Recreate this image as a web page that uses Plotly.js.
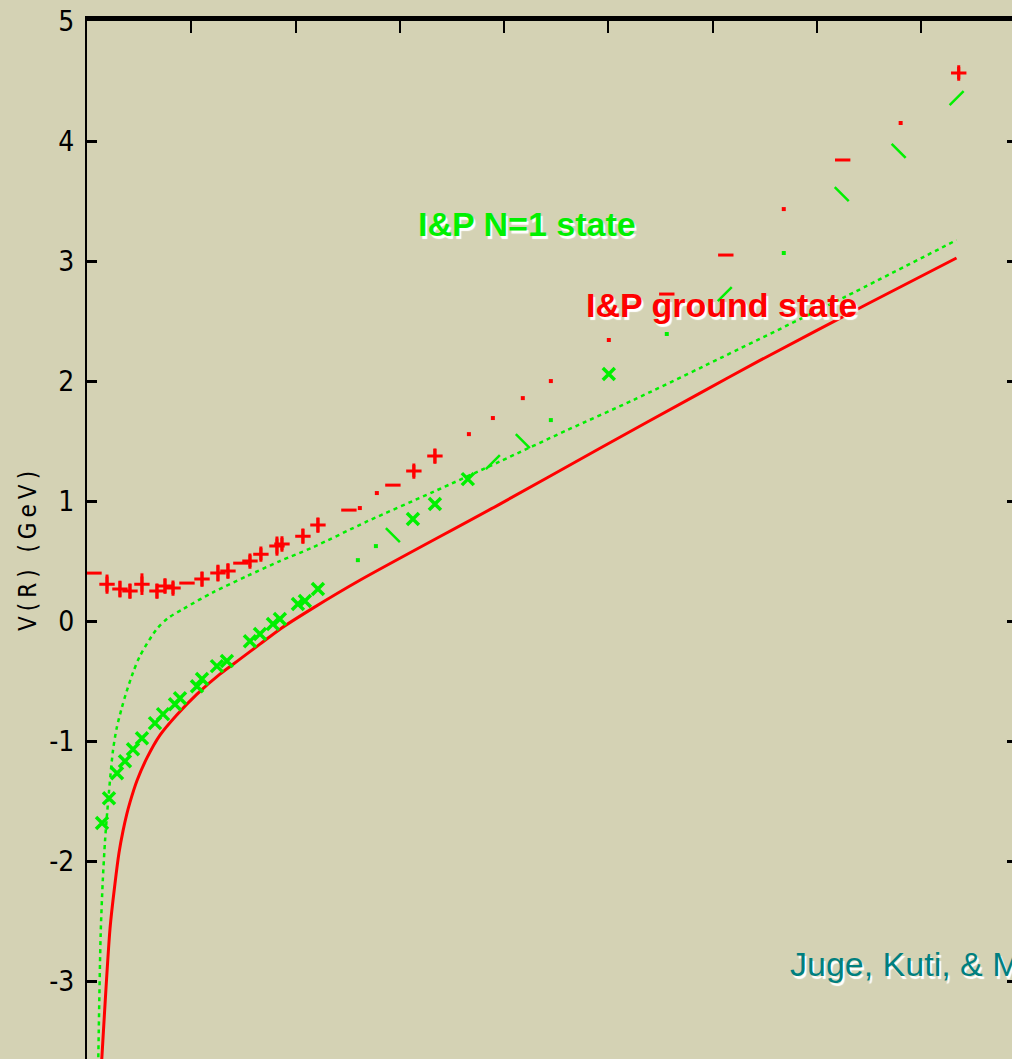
<!DOCTYPE html>
<html>
<head>
<meta charset="utf-8">
<script src="https://cdn.plot.ly/plotly-3.0.1.min.js"></script>
<style>
  html, body { margin: 0; padding: 0; overflow: hidden; background: #d4d2b4; }
  #chart { width: 1027px; height: 1086px; }
  .ytitle { letter-spacing: 5px; }
</style>
</head>
<body>
<div id="chart"></div>
<script>
// ---- Data ----
// Ground-state potential curve (solid red)
const groundX = [0.125, 0.141, 0.221, 0.268, 0.307, 0.345, 0.381, 0.412, 0.479, 0.575, 0.700, 0.863, 1.055, 1.275, 1.467, 1.659, 1.851, 2.167, 2.617, 3.960, 4.920, 5.880, 6.450, 7.480, 8.340];
const groundY = [-3.90, -3.66, -2.56, -2.19, -1.93, -1.75, -1.61, -1.51, -1.33, -1.14, -0.950, -0.780, -0.608, -0.442, -0.317, -0.192, -0.067, 0.108, 0.340, 0.975, 1.440, 1.900, 2.170, 2.640, 3.025];

// N=1 state curve (dashed green)
const n1X = [0.104, 0.108, 0.131, 0.151, 0.173, 0.195, 0.249, 0.285, 0.333, 0.381, 0.441, 0.508, 0.668, 0.777, 0.920, 1.208, 1.534, 1.850, 2.167, 2.685, 3.317, 3.960, 4.602, 5.235, 5.930, 7.267, 8.341];
const n1Y = [-3.90, -3.66, -2.61, -2.17, -1.83, -1.58, -1.08, -0.89, -0.725, -0.583, -0.430, -0.290, -0.067, 0.025, 0.100, 0.240, 0.375, 0.500, 0.615, 0.830, 1.075, 1.330, 1.590, 1.840, 2.130, 2.700, 3.175];

// Red lattice points drawn as "+" with vertical error bars
const redPlusX = [0.192, 0.316, 0.412, 0.527, 0.671, 0.748, 0.825, 1.103, 1.256, 1.352, 1.563, 1.668, 1.822, 1.870, 2.071, 2.215, 3.135, 3.337, 8.361];
const redPlusY = [0.308, 0.267, 0.250, 0.308, 0.250, 0.292, 0.275, 0.350, 0.400, 0.417, 0.500, 0.558, 0.625, 0.642, 0.708, 0.800, 1.250, 1.375, 4.567];
const redPlusErr = [0.08, 0.07, 0.06, 0.09, 0.06, 0.06, 0.05, 0.06, 0.07, 0.06, 0.05, 0.05, 0.08, 0.05, 0.06, 0.06, 0.05, 0.06, 0.05];

// Red lattice points drawn as short horizontal dashes
const redDashX = [0.067, 0.959, 1.476, 2.512, 2.934, 5.561, 6.127, 7.248];
const redDashY = [0.400, 0.317, 0.483, 0.925, 1.133, 2.725, 3.050, 3.842];

// Red lattice points drawn as small dots
const redDotX = [2.617, 2.780, 3.663, 3.893, 4.180, 4.449, 5.005, 6.683, 7.804];
const redDotY = [0.942, 1.067, 1.558, 1.692, 1.858, 2.000, 2.342, 3.433, 4.150];

// Green lattice points drawn as "x"
const greenXX = [0.144, 0.211, 0.288, 0.364, 0.441, 0.527, 0.652, 0.729, 0.844, 0.892, 1.055, 1.103, 1.246, 1.342, 1.563, 1.659, 1.783, 1.850, 2.023, 2.090, 2.215, 3.126, 3.337, 3.653, 5.005];
const greenXY = [-1.683, -1.475, -1.267, -1.167, -1.067, -0.975, -0.850, -0.775, -0.692, -0.642, -0.542, -0.483, -0.375, -0.333, -0.167, -0.108, -0.025, 0.017, 0.142, 0.167, 0.267, 0.850, 0.975, 1.183, 2.058];

// Green points drawn as slanted strokes "/" and "\"
const greenUpX = [3.893, 6.117, 8.341];
const greenUpY = [1.325, 2.725, 4.358];
const greenDownX = [2.934, 4.180, 7.239, 7.785];
const greenDownY = [0.717, 1.500, 3.558, 3.917];

// Green small dots
const greenDotX = [2.598, 2.771, 4.449, 5.561, 6.683];
const greenDotY = [0.508, 0.625, 1.675, 2.392, 3.067];

// Axis ticks
const yTickVals = [-3, -2, -1, 0, 1, 2, 3, 4, 5];
const yTickText = ['-3', '-2', '-1', '0', '1', '2', '3', '4', '5'];
const xTickVals = [1, 2, 3, 4, 5, 6, 7, 8];

// ---- Styles ----
const RED = '#ff0000';
const GREEN = '#00f000';
const BG = '#d4d2b4';
const NARROW = 'Liberation Sans Narrow, Arial Narrow, DejaVu Sans Condensed, sans-serif';

const traces = [
  { x: groundX, y: groundY, type: 'scatter', mode: 'lines', line: { color: RED, width: 3, shape: 'spline', smoothing: 0.8 }, hoverinfo: 'skip' },
  { x: n1X, y: n1Y, type: 'scatter', mode: 'lines', line: { color: GREEN, width: 2.5, dash: '4px,4px', shape: 'spline', smoothing: 0.8 }, hoverinfo: 'skip' },
  { x: redPlusX, y: redPlusY, type: 'scatter', mode: 'markers',
    marker: { symbol: 'cross-thin', size: 11, color: RED, line: { color: RED, width: 3 } },
    error_y: { type: 'data', array: redPlusErr, visible: true, color: RED, thickness: 3, width: 0 } },
  { x: redDashX, y: redDashY, type: 'scatter', mode: 'markers',
    marker: { symbol: 'line-ew', size: 11, color: RED, line: { color: RED, width: 3 } } },
  { x: redDotX, y: redDotY, type: 'scatter', mode: 'markers',
    marker: { symbol: 'square', size: 4, color: RED, line: { width: 0 } } },
  { x: greenXX, y: greenXY, type: 'scatter', mode: 'markers',
    marker: { symbol: 'x-thin', size: 12, color: GREEN, line: { color: GREEN, width: 3.5 } } },
  { x: greenUpX, y: greenUpY, type: 'scatter', mode: 'markers',
    marker: { symbol: 'line-ne', size: 14, color: GREEN, line: { color: GREEN, width: 2.5 } } },
  { x: greenDownX, y: greenDownY, type: 'scatter', mode: 'markers',
    marker: { symbol: 'line-nw', size: 14, color: GREEN, line: { color: GREEN, width: 2.5 } } },
  { x: greenDotX, y: greenDotY, type: 'scatter', mode: 'markers',
    marker: { symbol: 'square', size: 4, color: GREEN, line: { width: 0 } } }
];

const layout = {
  width: 1027,
  height: 1086,
  margin: { l: 87, r: 10, t: 21, b: 10 },
  paper_bgcolor: BG,
  plot_bgcolor: BG,
  showlegend: false,
  xaxis: {
    range: [0, 8.92],
    side: 'top',
    showline: true, linecolor: '#000000', linewidth: 5,
    ticks: 'inside', tickvals: xTickVals, ticklen: 12, tickwidth: 2, tickcolor: '#000000',
    showticklabels: false, showgrid: false, zeroline: false, fixedrange: true
  },
  yaxis: {
    range: [-3.79, 5],
    showline: true, linecolor: '#000000', linewidth: 2,
    mirror: 'ticks',
    ticks: 'inside', tickvals: yTickVals, ticktext: yTickText, ticklen: 10, tickwidth: 3, tickcolor: '#000000',
    ticklabelstandoff: 5,
    tickfont: { family: NARROW, size: 28, color: '#000000' },
    showgrid: false, zeroline: false, fixedrange: true,
    title: { text: 'V(R) (GeV)', standoff: 6,
      font: { family: NARROW, size: 24, color: '#000000' } }
  },
  annotations: [
    { x: 3.16, y: 3.31, xref: 'x', yref: 'y', xanchor: 'left', yanchor: 'middle', showarrow: false,
      text: 'I&P N=1 state',
      font: { family: 'Liberation Sans, Arial, sans-serif', size: 34, color: GREEN, weight: 'bold', shadow: '2px 3px 1px #ffffff' } },
    { x: 4.77, y: 2.63, xref: 'x', yref: 'y', xanchor: 'left', yanchor: 'middle', showarrow: false,
      text: 'I&P ground state',
      font: { family: 'Liberation Sans, Arial, sans-serif', size: 34, color: RED, weight: 'bold', shadow: '2px 3px 1px #ffffff' } },
    { x: 6.72, y: -2.86, xref: 'x', yref: 'y', xanchor: 'left', yanchor: 'middle', showarrow: false,
      text: 'Juge, Kuti, & Morningstar',
      font: { family: 'Liberation Sans, Arial, sans-serif', size: 34, color: '#007f7f', shadow: '2px 3px 1px #ffffff' } }
  ]
};

Plotly.newPlot('chart', traces, layout, { staticPlot: true, displayModeBar: false });
</script>
</body>
</html>
